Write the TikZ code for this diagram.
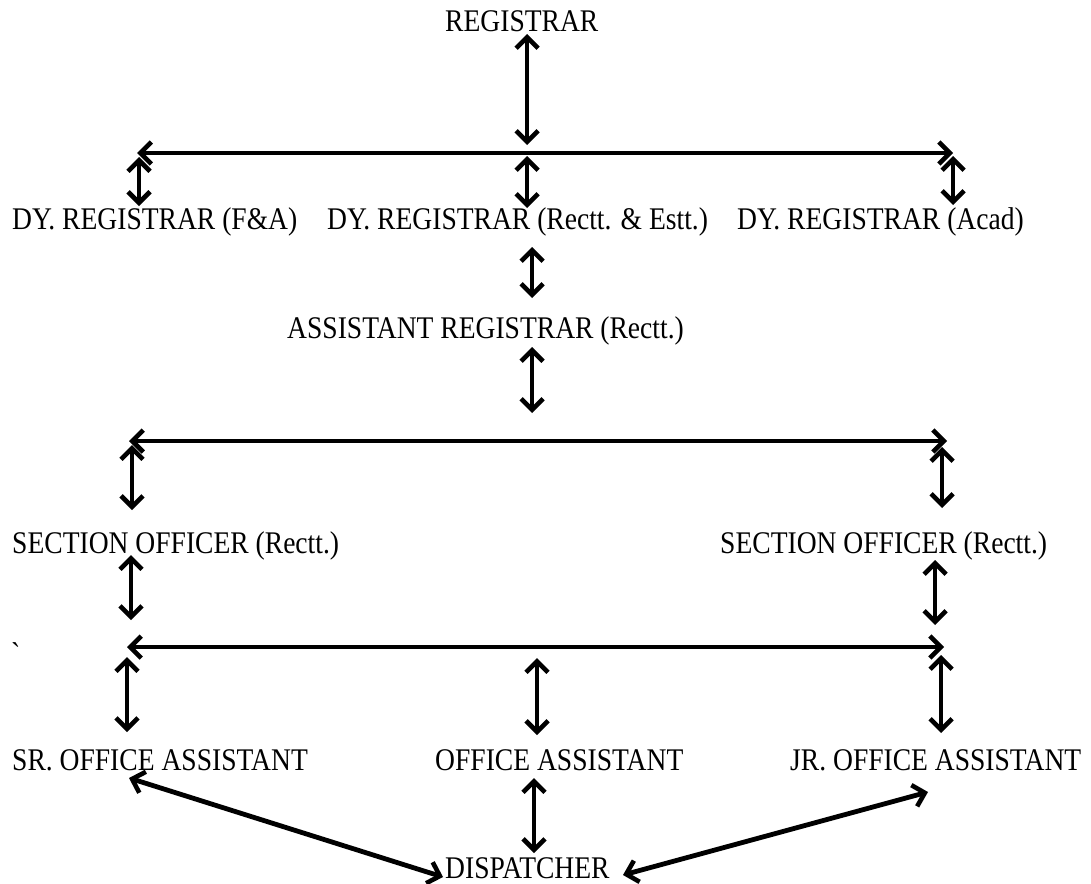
\documentclass[tikz,border=0pt]{standalone}
\usepackage{fontspec}
\setmainfont{Liberation Serif}[FakeStretch=0.875]
\usetikzlibrary{arrows.meta}
\begin{document}
\begin{tikzpicture}[x=1pt,y=-1pt,
  post/.style={font=\fontsize{31.5}{36}\selectfont, inner sep=0pt, anchor=base west},
  barb/.tip={Straight Barb[length=11pt,width=22pt,line width=4.6pt]},
  link/.style={line width=4.8pt, barb-barb}]
\useasboundingbox (0,0) rectangle (1091,883);

% ranks
\node[post] (reg)  at (445,32)  {REGISTRAR};
\node[post] (dyfa) at (12,229)  {DY. REGISTRAR (F\&A)};
\node[post] (dyre) at (327,229) {DY. REGISTRAR (Rectt. \& Estt.)};
\node[post] (dyac) at (737,229) {DY. REGISTRAR (Acad)};
\node[post] (asr)  at (287,338) {ASSISTANT REGISTRAR (Rectt.)};
\node[post] (sol)  at (12,553)  {SECTION OFFICER (Rectt.)};
\node[post] (sor)  at (720,553) {SECTION OFFICER (Rectt.)};
\node[post] (sroa) at (12,770)  {SR. OFFICE ASSISTANT};
\node[post] (oa)   at (435,770) {OFFICE ASSISTANT};
\node[post] (jroa) at (790,770) {JR. OFFICE ASSISTANT};
\node[post] (disp) at (445,878) {DISPATCHER};
\node[post] (tick) at (11,664)  {\textasciigrave};

% arrow end points
\coordinate (r1) at (527,34);   \coordinate (r2) at (527,145);
\coordinate (b1l) at (137,153); \coordinate (b1r) at (953,153);
\coordinate (d1a) at (139,157); \coordinate (d1b) at (139,206);
\coordinate (d2a) at (527,156); \coordinate (d2b) at (527,208);
\coordinate (d3a) at (953,156); \coordinate (d3b) at (953,205);
\coordinate (e1) at (532,247);  \coordinate (e2) at (532,298);
\coordinate (f1) at (532,347);  \coordinate (f2) at (532,413);
\coordinate (b2l) at (129,441); \coordinate (b2r) at (947,441);
\coordinate (g1a) at (132,445); \coordinate (g1b) at (132,510);
\coordinate (g2a) at (942,447); \coordinate (g2b) at (942,508);
\coordinate (h1a) at (131,555); \coordinate (h1b) at (131,620);
\coordinate (h2a) at (935,560); \coordinate (h2b) at (935,625);
\coordinate (b3l) at (127,647); \coordinate (b3r) at (944,647);
\coordinate (k1a) at (127,657); \coordinate (k1b) at (127,732);
\coordinate (k2a) at (537,658); \coordinate (k2b) at (537,735);
\coordinate (k3a) at (941,655); \coordinate (k3b) at (941,733);
\coordinate (m1) at (534,778);  \coordinate (m2) at (534,853);
\coordinate (n1a) at (129,778); \coordinate (n1b) at (443,877);
\coordinate (n2a) at (928,792); \coordinate (n2b) at (623,875);

% links
\draw[link] (r1) -- (r2);
\draw[link] (b1l) -- (b1r);
\draw[link] (d1a) -- (d1b);
\draw[link] (d2a) -- (d2b);
\draw[link] (d3a) -- (d3b);
\draw[link] (e1) -- (e2);
\draw[link] (f1) -- (f2);
\draw[link] (b2l) -- (b2r);
\draw[link] (g1a) -- (g1b);
\draw[link] (g2a) -- (g2b);
\draw[link] (h1a) -- (h1b);
\draw[link] (h2a) -- (h2b);
\draw[link] (b3l) -- (b3r);
\draw[link] (k1a) -- (k1b);
\draw[link] (k2a) -- (k2b);
\draw[link] (k3a) -- (k3b);
\draw[link] (m1) -- (m2);
\draw[link] (n1a) -- (n1b);
\draw[link] (n2a) -- (n2b);
\end{tikzpicture}
\end{document}
